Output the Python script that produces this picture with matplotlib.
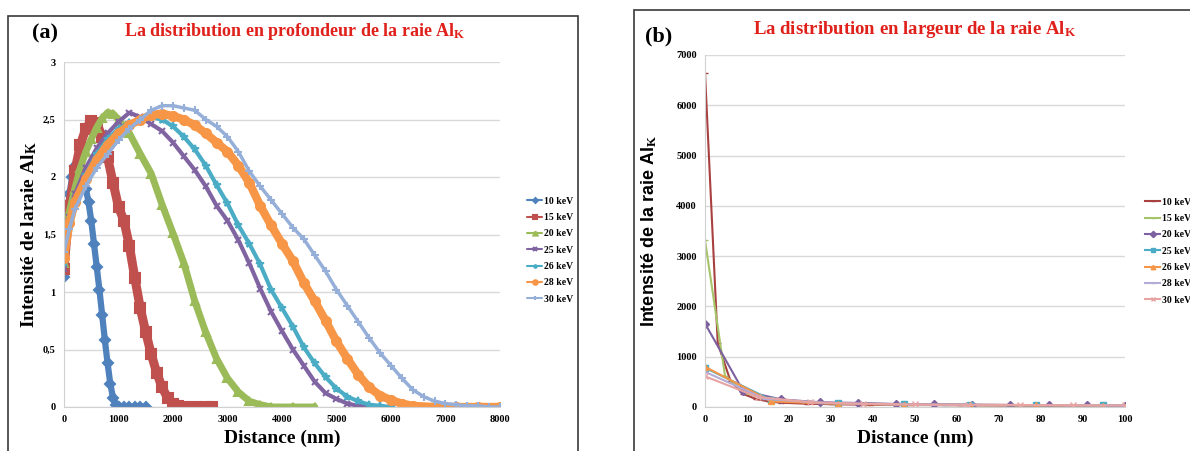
"""Al_K line distributions: depth (a) and width (b) for several beam energies."""
import matplotlib
matplotlib.use('Agg')
import matplotlib.pyplot as plt
from matplotlib.patches import Rectangle
from matplotlib.ticker import FuncFormatter

plt.rcParams['font.family'] = 'Liberation Serif'
plt.rcParams['font.weight'] = 'bold'
plt.rcParams['mathtext.fontset'] = 'custom'
plt.rcParams['mathtext.rm'] = 'Liberation Serif:bold'
plt.rcParams['mathtext.bf'] = 'Liberation Serif:bold'
plt.rcParams['mathtext.it'] = 'Liberation Serif:bold'

# ---- panel (a): depth distribution, distance in nm ----
labels = ['10 keV', '15 keV', '20 keV', '25 keV', '26 keV', '28 keV', '30 keV']

d10 = [0, 50, 100, 150, 200, 250, 300, 350, 400, 450, 500, 550, 600, 650, 700, 750, 800, 850, 900, 950,
       1000, 1100, 1200, 1300, 1400, 1500]
v10 = [1.13, 1.6, 1.85, 2.0, 2.1, 2.12, 2.08, 2.0, 1.9, 1.78, 1.62, 1.42, 1.22, 1.02, 0.8, 0.58, 0.38, 0.2, 0.08,
       0.02, 0.0, 0.0, 0.0, 0.0, 0.0, 0.0]

d15 = [0, 100, 200, 300, 400, 500, 600, 700, 800, 900, 1000, 1100, 1200, 1300, 1400, 1500, 1600, 1700, 1800, 1900,
       2000, 2100, 2200, 2400, 2600, 2720]
v15 = [1.2, 1.75, 2.05, 2.28, 2.42, 2.49, 2.47, 2.35, 2.17, 1.95, 1.74, 1.62, 1.4, 1.12, 0.86, 0.65, 0.46, 0.3, 0.17,
       0.08, 0.03, 0.01, 0.0, 0.0, 0.0, 0.0]

d20 = [0, 100, 200, 300, 400, 500, 600, 700, 800, 900, 1000, 1200, 1400, 1600, 1800, 2000, 2200, 2400, 2600, 2800,
       3000, 3200, 3400, 3600, 3800, 4200, 4600]
v20 = [1.25, 1.7, 1.9, 2.08, 2.22, 2.33, 2.43, 2.51, 2.56, 2.55, 2.5, 2.38, 2.2, 2.03, 1.76, 1.51, 1.25, 0.92, 0.65,
       0.42, 0.25, 0.13, 0.05, 0.02, 0.0, 0.0, 0.0]

d25 = [0, 100, 200, 400, 600, 800, 1000, 1200, 1400, 1600, 1800, 2000, 2200, 2400, 2600, 2800, 3000, 3200, 3400,
       3600, 3800, 4000, 4200, 4400, 4600, 4800, 5000, 5200, 5400, 5600]
v25 = [1.2, 1.65, 1.85, 2.08, 2.25, 2.38, 2.48, 2.56, 2.52, 2.46, 2.4, 2.3, 2.18, 2.06, 1.92, 1.75, 1.62, 1.45, 1.25,
       1.03, 0.83, 0.66, 0.5, 0.36, 0.22, 0.12, 0.07, 0.03, 0.01, 0.0]

d26 = [0, 100, 200, 400, 600, 800, 1000, 1200, 1400, 1600, 1800, 2000, 2200, 2400, 2600, 2800, 3000, 3200, 3400,
       3600, 3800, 4000, 4200, 4400, 4600, 4800, 5000, 5200, 5400, 5600, 5800, 6000]
v26 = [1.25, 1.6, 1.8, 2.02, 2.2, 2.33, 2.42, 2.47, 2.5, 2.52, 2.5, 2.44, 2.35, 2.24, 2.1, 1.93, 1.77, 1.58, 1.42,
       1.24, 1.02, 0.86, 0.7, 0.52, 0.38, 0.26, 0.16, 0.09, 0.05, 0.02, 0.01, 0.0]

d28 = [0, 100, 200, 400, 600, 800, 1000, 1200, 1400, 1600, 1800, 2000, 2200, 2400, 2600, 2800, 3000, 3200, 3400,
       3600, 3800, 4000, 4200, 4400, 4600, 4800, 5000, 5200, 5400, 5600, 5800, 6000, 6200, 6400, 6800, 7200, 7600,
       8000]
v28 = [1.3, 1.6, 1.78, 1.98, 2.15, 2.28, 2.38, 2.45, 2.5, 2.54, 2.55, 2.53, 2.5, 2.45, 2.38, 2.3, 2.22, 2.1, 1.95,
       1.75, 1.58, 1.42, 1.27, 1.08, 0.92, 0.75, 0.57, 0.42, 0.28, 0.17, 0.1, 0.06, 0.03, 0.01, 0.0, 0.0, 0.0, 0.0]

d30 = [0, 100, 200, 400, 600, 800, 1000, 1200, 1400, 1600, 1800, 2000, 2200, 2400, 2600, 2800, 3000, 3200, 3400,
       3600, 3800, 4000, 4200, 4400, 4600, 4800, 5000, 5200, 5400, 5600, 5800, 6000, 6200, 6400, 6600, 6800, 7000,
       7200, 7400, 7600, 7800, 8000]
v30 = [1.35, 1.55, 1.72, 1.92, 2.08, 2.2, 2.32, 2.42, 2.5, 2.58, 2.62, 2.62, 2.6, 2.58, 2.5, 2.44, 2.35, 2.22, 2.05,
       1.92, 1.8, 1.68, 1.56, 1.46, 1.32, 1.18, 1.02, 0.88, 0.74, 0.6, 0.47, 0.36, 0.25, 0.15, 0.09, 0.05, 0.03,
       0.02, 0.01, 0.01, 0.0, 0.0]

# ---- panel (b): width distribution, distance in nm ----
x10 = [0, 3.03, 6.06, 9.09, 12.12, 15.15, 18.18, 24.24, 30.3, 39.39, 48.48, 60.61, 72.73, 84.85, 100]
y10 = [6650, 1270, 520, 260, 160, 110, 85, 65, 55, 45, 40, 35, 30, 28, 25]
x15 = [0, 4.76, 9.52, 14.29, 19.05, 23.81, 28.57, 38.1, 47.62, 57.14, 66.67, 76.19, 85.71, 95.24, 100]
y15 = [3320, 620, 280, 170, 120, 95, 80, 65, 55, 48, 42, 38, 35, 32, 30]
x20 = [0, 9.09, 18.18, 27.27, 36.36, 45.45, 54.55, 63.64, 72.73, 81.82, 90.91, 100]
y20 = [1660, 320, 150, 95, 80, 60, 55, 45, 40, 35, 30, 25]
x25 = [0, 15.8, 31.6, 47.4, 63.2, 78.9, 94.7]
y25 = [780, 140, 70, 50, 40, 35, 30]
x26 = [0, 15.8, 31.6, 47.4, 63.2, 78.9, 94.7]
y26 = [800, 110, 65, 45, 38, 33, 28]
x28 = [0, 14.3, 28.6, 42.9, 57.1, 71.4, 85.7, 100]
y28 = [700, 160, 80, 55, 45, 40, 35, 30]
x30 = [0, 12.5, 25, 37.5, 50, 62.5, 75, 87.5, 100]
y30 = [610, 200, 95, 65, 50, 45, 40, 35, 30]

W, H = 1190, 451
fig = plt.figure(figsize=(W / 100, H / 100), dpi=100)

# panel frames
fig.patches.append(Rectangle((8 / W, -0.1), 570 / W, 1.1 - 16 / H, transform=fig.transFigure,
                             fill=False, ec='#3a3a3a', lw=1.2))
fig.patches.append(Rectangle((634 / W, -0.1), 0.6, 1.1 - 10 / H, transform=fig.transFigure,
                             fill=False, ec='#3a3a3a', lw=1.2))


def style_axes(ax):
    for s in ['top', 'right']:
        ax.spines[s].set_visible(False)
    for s in ['left', 'bottom']:
        ax.spines[s].set_color('#d0d0d0')
    ax.yaxis.grid(True, color='#d9d9d9', lw=1)
    ax.set_axisbelow(True)
    ax.tick_params(length=0, labelsize=7.5, pad=6)
    for t in ax.get_xticklabels() + ax.get_yticklabels():
        t.set_fontweight('bold')


# ----- (a) -----
ax1 = fig.add_axes([64 / W, 1 - 407 / H, 436 / W, 345 / H])
# (x, y, colour, marker, line width, marker size)
series_a = [(d10, v10, '#4F81BD', 'D', 4.5, 5), (d15, v15, '#C0504D', 's', 6.5, 6.5),
            (d20, v20, '#9BBB59', '^', 5, 6), (d25, v25, '#8064A2', 'x', 3, 5),
            (d26, v26, '#4BACC6', '*', 3, 5.5), (d28, v28, '#F79646', 'o', 6, 6.5),
            (d30, v30, '#95AFD9', '+', 2.5, 6)]
for (d, v, c, m, lw, ms), lab in zip(series_a, labels):
    ax1.plot(d, v, color=c, lw=lw, marker=m, ms=ms, mew=1.5, label=lab, solid_capstyle='round')
ax1.set_xlim(0, 8000)
ax1.set_ylim(0, 3)
ax1.set_xticks(range(0, 8001, 1000))
ax1.set_yticks([0, 0.5, 1, 1.5, 2, 2.5, 3])
ax1.yaxis.set_major_formatter(FuncFormatter(lambda v, p: ('%g' % v).replace('.', ',')))
style_axes(ax1)
ax1.set_xlabel('Distance (nm)', fontsize=14, fontweight='bold', labelpad=4)
ax1.set_ylabel(r'Intensité de laraie Al$_\mathbf{K}$', fontsize=14, fontweight='bold', labelpad=3)
h, l = ax1.get_legend_handles_labels()
fig.legend(h, l, loc='upper left', bbox_to_anchor=(522 / W, 1 - 192 / H), frameon=False,
           prop={'family': 'Liberation Serif', 'weight': 'bold', 'size': 7}, markerscale=0.5,
           handlelength=1.6, handletextpad=0.2, labelspacing=0.75, borderpad=0)
for line in fig.legends[-1].get_lines():
    line.set_linewidth(1.5)

fig.text(45 / W, 1 - 33 / H, '(a)', fontsize=16, fontweight='bold', ha='center', va='center')
fig.text(295 / W, 1 - 32 / H, r'La distribution en profondeur de la raie Al$_\mathbf{K}$', fontsize=13,
         fontweight='bold', color='#E0201B', ha='center', va='center')

# ----- (b) -----
ax2 = fig.add_axes([705 / W, 1 - 407 / H, 420 / W, 352 / H])
series_b = [(x10, y10, '#A8403F', '_'), (x15, y15, '#A6C46A', '_'), (x20, y20, '#7D60A0', 'D'),
            (x25, y25, '#4BACC6', 's'), (x26, y26, '#F79646', '^'), (x28, y28, '#B3ACD6', '_'),
            (x30, y30, '#E8A3A3', 'x')]
for (x, y, c, m), lab in zip(series_b, labels):
    ax2.plot(x, y, color=c, lw=1.5, marker=m, ms=4, label=lab)
ax2.set_xlim(0, 100)
ax2.set_ylim(0, 7000)
ax2.set_xticks(range(0, 101, 10))
ax2.set_yticks(range(0, 7001, 1000))
style_axes(ax2)
ax2.set_xlabel('Distance (nm)', fontsize=14, fontweight='bold', labelpad=4)
ax2.set_ylabel(r'Intensité de la raie Al$_\mathbf{K}$', fontsize=13, fontweight='bold', labelpad=12,
               family='Liberation Sans')
h2, l2 = ax2.get_legend_handles_labels()
fig.legend(h2, l2, loc='upper left', bbox_to_anchor=(1140 / W, 1 - 193 / H), frameon=False,
           prop={'family': 'Liberation Serif', 'weight': 'bold', 'size': 7}, markerscale=0.8,
           handlelength=1.6, handletextpad=0.2, labelspacing=0.75, borderpad=0)

fig.text(659 / W, 1 - 36 / H, '(b)', fontsize=16, fontweight='bold', ha='center', va='center')
fig.text(915 / W, 1 - 29 / H, r'La distribution en largeur de la raie Al$_\mathbf{K}$', fontsize=13.5,
         fontweight='bold', color='#E0201B', ha='center', va='center')

fig.savefig('out.png', dpi=100)
